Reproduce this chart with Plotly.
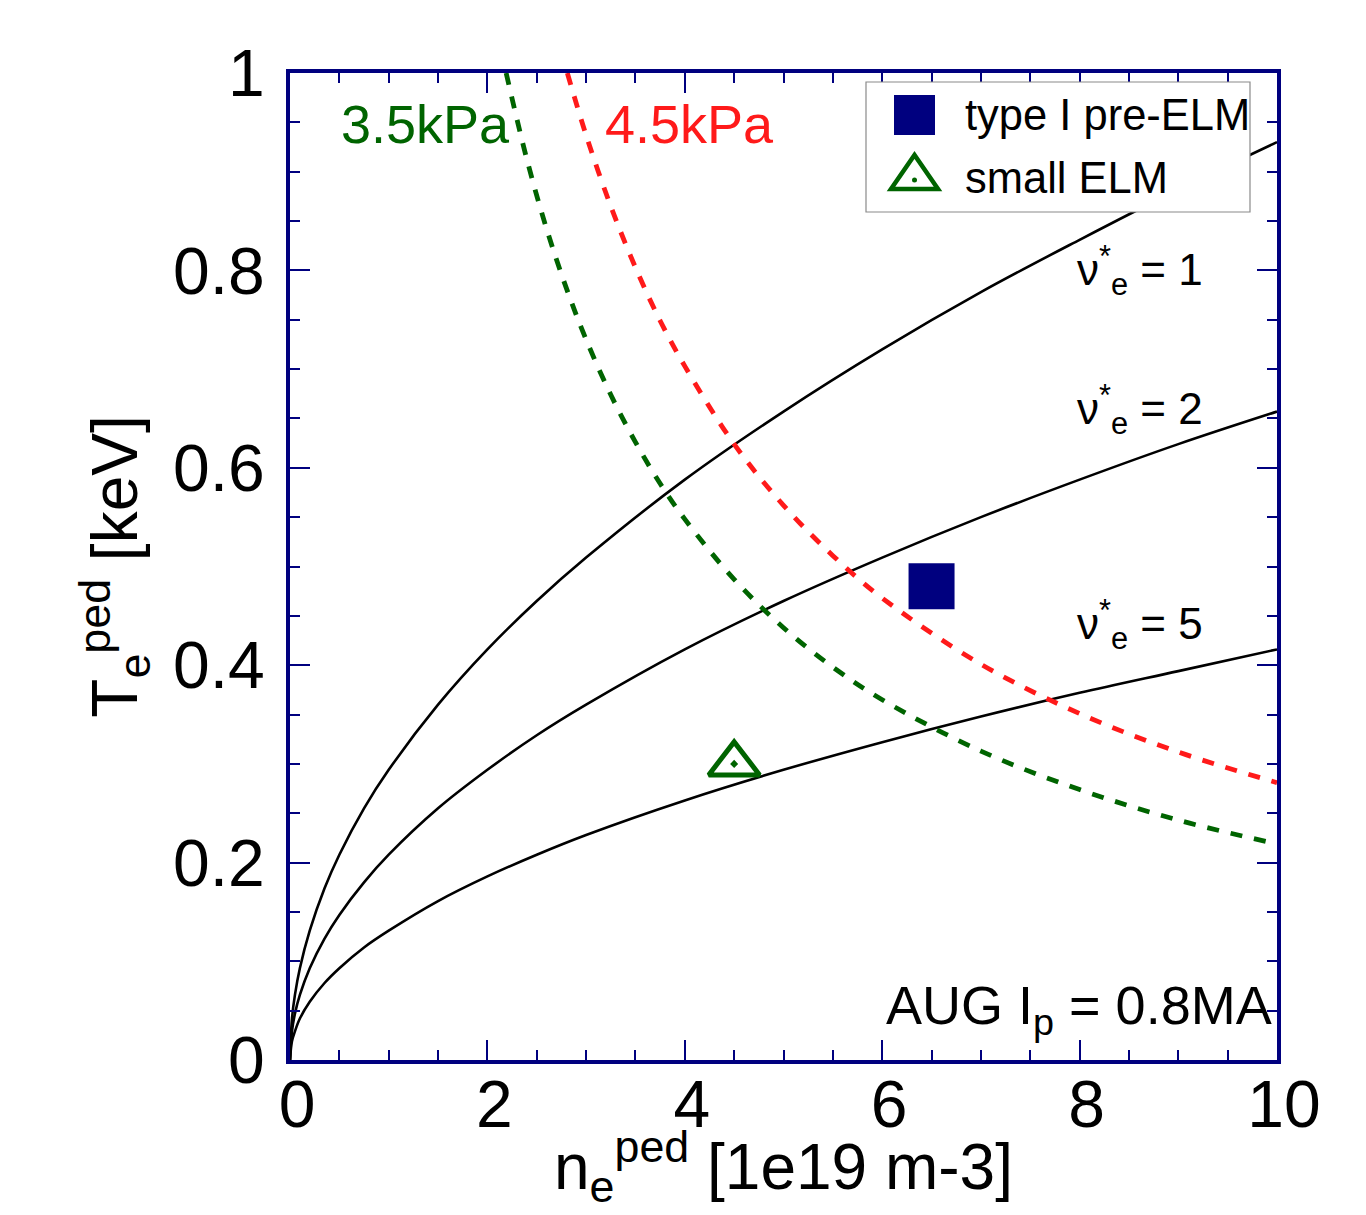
import plotly.graph_objects as go

# ---- data ----
n_nu = [0, 0.02, 0.05, 0.1, 0.2, 0.35, 0.5, 0.75, 1, 1.5, 2, 2.5, 3, 4, 5, 6, 7, 8, 9, 10]
T_nu1 = [0, 0.042, 0.066, 0.093, 0.131, 0.174, 0.208, 0.255, 0.294, 0.360, 0.416, 0.465,
         0.509, 0.588, 0.657, 0.720, 0.778, 0.831, 0.882, 0.930]
T_nu2 = [0, 0.029, 0.047, 0.066, 0.093, 0.123, 0.147, 0.180, 0.208, 0.255, 0.294, 0.329,
         0.360, 0.416, 0.465, 0.509, 0.550, 0.588, 0.624, 0.657]
T_nu5 = [0, 0.019, 0.029, 0.042, 0.059, 0.078, 0.093, 0.114, 0.131, 0.161, 0.186, 0.208,
         0.228, 0.263, 0.294, 0.322, 0.348, 0.372, 0.394, 0.416]

n_p35 = [2.19, 2.4, 2.6, 2.8, 3.0, 3.25, 3.5, 3.75, 4.0, 4.5, 5.0, 5.5, 6.0, 7.0, 8.0, 9.0, 10.0]
T_p35 = [1.0, 0.9125, 0.842, 0.782, 0.730, 0.674, 0.626, 0.584, 0.548, 0.487, 0.438, 0.398,
         0.365, 0.313, 0.274, 0.243, 0.219]
n_p45 = [2.81, 3.0, 3.25, 3.5, 3.75, 4.0, 4.5, 5.0, 5.5, 6.0, 7.0, 8.0, 9.0, 10.0]
T_p45 = [1.0, 0.937, 0.865, 0.803, 0.749, 0.703, 0.624, 0.562, 0.511, 0.468, 0.401, 0.351,
         0.312, 0.281]

typeI_n = [6.5]
typeI_T = [0.48]
small_n = [4.5]
small_T = [0.30]

xticks = [0, 2, 4, 6, 8, 10]
yticks = [0, 0.2, 0.4, 0.6, 0.8, 1]

NAVY = "#00007f"
GREEN = "#006400"
RED = "#ff1a1a"
FONT = "Liberation Sans, Arial, sans-serif"

fig = go.Figure()
for T in (T_nu1, T_nu2, T_nu5):
    fig.add_trace(go.Scatter(x=n_nu, y=T, mode="lines", line=dict(color="black", width=2.6, shape="spline"),
                             showlegend=False, hoverinfo="skip"))
fig.add_trace(go.Scatter(x=n_p35, y=T_p35, mode="lines",
                         line=dict(color=GREEN, width=4.8, dash="12px,12px", shape="spline"), showlegend=False))
fig.add_trace(go.Scatter(x=n_p45, y=T_p45, mode="lines",
                         line=dict(color=RED, width=4.8, dash="12px,12px", shape="spline"), showlegend=False))
fig.add_trace(go.Scatter(x=typeI_n, y=typeI_T, mode="markers", name="type I pre-ELM",
                         marker=dict(symbol="square", size=46, color=NAVY), showlegend=False))
fig.add_trace(go.Scatter(x=small_n, y=small_T, mode="markers", name="small ELM",
                         marker=dict(symbol="triangle-up-open-dot", size=44, color=GREEN,
                                     line=dict(width=5, color=GREEN)), showlegend=False))

axis_common = dict(
    showline=True, linecolor=NAVY, linewidth=4, mirror="ticks",
    ticks="inside", ticklen=20, tickwidth=2, tickcolor=NAVY,
    showgrid=False, zeroline=False, automargin=False,
    tickfont=dict(size=66, color="black", family=FONT),
)
# page body has an 8px margin, so the figure is drawn from (8, 8)
fig.update_layout(
    width=1350, height=1199,
    margin=dict(l=282, r=81, t=65, b=147),
    plot_bgcolor="white", paper_bgcolor="white",
    font=dict(family=FONT, color="black"),
    xaxis=dict(range=[0, 10], tickvals=xticks, ticktext=[str(v) for v in xticks],
               minor=dict(dtick=0.5, ticklen=10, tickwidth=2, tickcolor=NAVY, ticks="inside"),
               ticklabelstandoff=-16, ticklabelshift=7,
               **axis_common),
    yaxis=dict(range=[0, 1], tickvals=yticks, ticktext=["0", "0.2", "0.4", "0.6", "0.8", "1"],
               minor=dict(dtick=0.05, ticklen=10, tickwidth=2, tickcolor=NAVY, ticks="inside"),
               title=dict(text="T<sub>e</sub><sup>ped</sup> [keV]", font=dict(size=64), standoff=16),
               ticklabelstandoff=8,
               **axis_common),
    showlegend=False,
)

# custom legend (paper coordinates, relative to the plot area)
def px(x):
    return (x - 290) / 987.0

def py(y):
    return (1060 - y) / 987.0

shapes = [
    dict(type="rect", xref="paper", yref="paper", x0=px(866), x1=px(1250), y0=py(212), y1=py(82),
         fillcolor="white", line=dict(color="#8a8a8a", width=1.2)),
    dict(type="rect", xref="paper", yref="paper", x0=px(894), x1=px(935), y0=py(135), y1=py(95),
         fillcolor=NAVY, line=dict(width=0)),
    dict(type="path", xref="paper", yref="paper",
         path=f"M {px(891)},{py(189)} L {px(938)},{py(189)} L {px(914.5)},{py(155)} Z",
         line=dict(color=GREEN, width=4.5), fillcolor="rgba(0,0,0,0)"),
    dict(type="circle", xref="paper", yref="paper", x0=px(912), x1=px(917), y0=py(182.5), y1=py(177.5),
         fillcolor=GREEN, line=dict(width=0)),
]
fig.update_layout(shapes=shapes)

ann = [
    # x-axis title
    dict(x=0.5, y=py(1213), xref="paper", yref="paper", text="n<sub>e</sub><sup>ped</sup> [1e19 m-3]",
         xanchor="center", yanchor="bottom", showarrow=False, font=dict(size=64)),
    dict(x=px(963), y=py(115), xref="paper", yref="paper", text="type I pre-ELM", xanchor="left",
         yanchor="middle", showarrow=False, font=dict(size=43.5)),
    dict(x=px(963), y=py(178), xref="paper", yref="paper", text="small ELM", xanchor="left",
         yanchor="middle", showarrow=False, font=dict(size=43.5)),
    dict(x=0.5, y=0.948, text="3.5kPa", xanchor="left", yanchor="middle", showarrow=False,
         font=dict(size=54, color=GREEN)),
    dict(x=3.17, y=0.948, text="4.5kPa", xanchor="left", yanchor="middle", showarrow=False,
         font=dict(size=54, color=RED)),
    dict(x=7.95, y=0.80, text="ν<sup>*</sup><sub>e</sub> = 1", xanchor="left", yanchor="middle",
         showarrow=False, font=dict(size=44)),
    dict(x=7.95, y=0.659, text="ν<sup>*</sup><sub>e</sub> = 2", xanchor="left", yanchor="middle",
         showarrow=False, font=dict(size=44)),
    dict(x=7.95, y=0.441, text="ν<sup>*</sup><sub>e</sub> = 5", xanchor="left", yanchor="middle",
         showarrow=False, font=dict(size=44)),
    dict(x=9.97, y=0.052, text="AUG I<sub>p</sub> = 0.8MA", xanchor="right", yanchor="middle",
         showarrow=False, font=dict(size=54)),
]
fig.update_layout(annotations=ann)

fig.write_html("out.html")
